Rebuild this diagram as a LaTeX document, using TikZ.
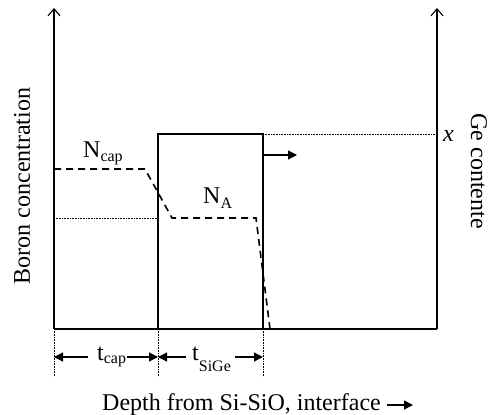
\documentclass[tikz,border=0pt]{standalone}
\usepackage{fontspec}
\setmainfont{Liberation Serif}
\usetikzlibrary{arrows.meta}
\newcommand\mysub[2][4pt]{\raisebox{-#1}{\fontsize{16}{16}\selectfont #2}}
\begin{document}
\begin{tikzpicture}[x=1pt,y=-1pt,
  every node/.style={font=\fontsize{24}{28}\selectfont, inner sep=0pt},
  axis/.style={line width=1.2pt, -{Straight Barb[length=7pt,width=12pt,line width=1.1pt]}},
  base/.style={line width=1.2pt},
  boxline/.style={line width=2pt},
  profile/.style={line width=1.6pt, dash pattern=on 7pt off 5pt},
  guide/.style={line width=0.8pt, dash pattern=on 0.8pt off 0.8pt},
  dim/.style={line width=1.3pt, -{Triangle[length=9pt,width=9pt]}},
  lbl/.style={anchor=base west}]
\useasboundingbox (0,0) rectangle (490,415);
% axis coordinates
\coordinate (o) at (54,329);
\coordinate (ytop) at (54,8);
\coordinate (r) at (437,329);
\coordinate (rtop) at (437,8);
\coordinate (b0) at (158,329);
\coordinate (b1) at (158,134);
\coordinate (b2) at (263,134);
\coordinate (b3) at (263,329);
% axes
\draw[axis] (o) -- (ytop);
\draw[axis] (r) -- (rtop);
\draw[base] (o) -- (r);
% SiGe box
\draw[boxline] (b0) -- (b1) -- (b2) -- (b3);
% guides
\coordinate (gx) at (437,134);
\draw[guide] (b2) -- (gx);
\coordinate (na0) at (54,218);
\coordinate (na1) at (158,218);
\draw[guide] (na0) -- (na1);
% boron profile
\coordinate (p0) at (54,169);
\coordinate (p1) at (145,169);
\coordinate (p2) at (172,218);
\coordinate (p3) at (256,218);
\coordinate (p4) at (270,329);
\draw[profile] (p0) -- (p1) -- (p2) -- (p3) -- (p4);
% arrow on box
\coordinate (a0) at (263,155);
\coordinate (a1) at (297,155);
\draw[dim] (a0) -- (a1);
% vertical dotted ticks
\coordinate (t0) at (54,377);
\coordinate (t1) at (158,377);
\coordinate (t2) at (263,377);
\draw[guide] (o) -- (t0);
\draw[guide] (b0) -- (t1);
\draw[guide] (b3) -- (t2);
% dimension
\coordinate (d0) at (54,357);
\coordinate (d1) at (158,357);
\coordinate (d2) at (263,357);
\node[lbl] (tcap) at (97,360) {t\mysub[3pt]{cap}};
\node[lbl] (tsige) at (192,360) {t\mysub[11pt]{SiGe}};
\draw[dim] (tcap.west |- d0) ++(-9,0) coordinate (e0) -- (d0);
\draw[dim] (tcap.east |- d0) ++(1,0) coordinate (e1) -- (d1);
\draw[dim] (tsige.west |- d1) ++(-6,0) coordinate (e2) -- (d1);
\draw[dim] (tsige.east |- d2) ++(4,0) coordinate (e3) -- (d2);
% labels
\node[lbl] (ncap) at (83,157) {N\mysub[4pt]{cap}};
\node[lbl] (na) at (203,203) {N\mysub[5pt]{A}};
\node[lbl] (xl) at (443,141) {\textit{x}};
\node[rotate=90] (ylab) at (22,186) {Boron concentration};
\node[rotate=-90] (rlab) at (479,171) {Ge contente};
\node[lbl] (xlab) at (102,410) {Depth from Si-SiO, interface};
\coordinate (xa) at (413,405);
\draw[dim] (xlab.east |- xa) ++(6,0) coordinate (xa0) -- (xa);
\end{tikzpicture}
\end{document}
